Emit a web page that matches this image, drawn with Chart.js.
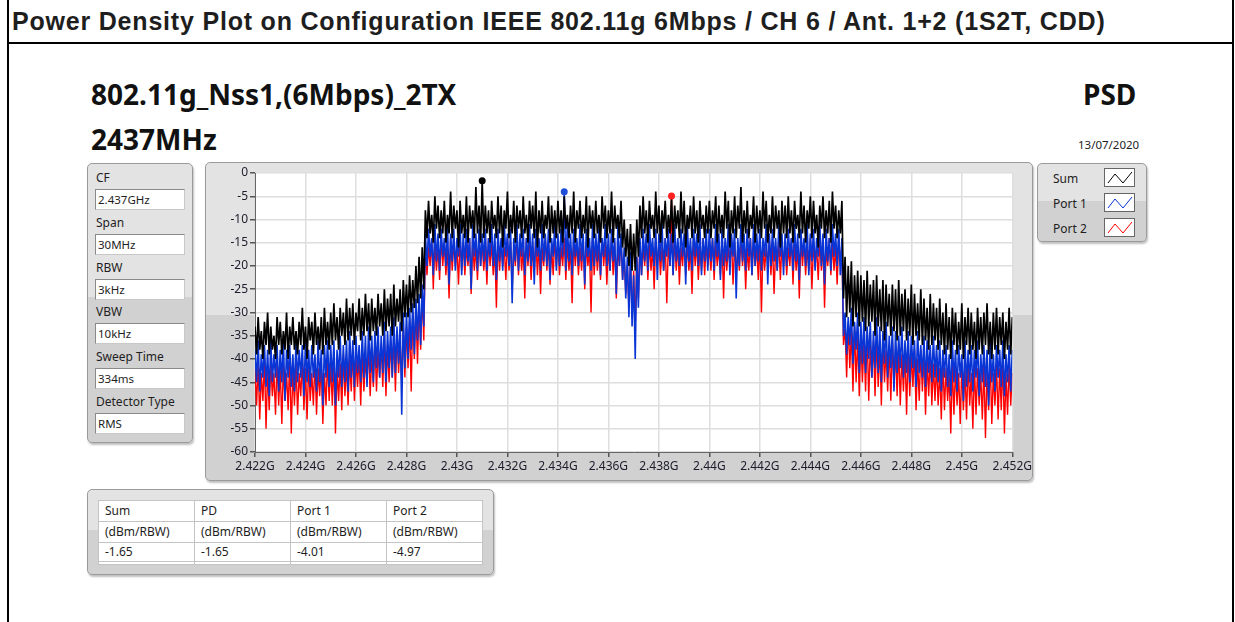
<!DOCTYPE html>
<html>
<head>
<meta charset="utf-8">
<title>PSD</title>
<script src="https://cdn.jsdelivr.net/npm/chart.js@4.4.0/dist/chart.umd.min.js"></script>
<style>
  body { margin: 0; width: 1235px; height: 622px; overflow: hidden; background: #fff; position: relative; font-family: "Noto Sans", sans-serif; color: #1e1e1e; }
  .rule { position: absolute; background: #000; }
  #title { position: absolute; left: 12px; top: 7px; font: bold 25px "Liberation Sans", Arial, sans-serif; letter-spacing: 0.8px; white-space: nowrap; }
  .big { position: absolute; font-weight: bold; font-size: 28px; white-space: nowrap; color: #111; }
  #date { position: absolute; left: 1078px; top: 137px; font-size: 11.5px; }
  .panel { position: absolute; border: 1px solid #9a9a9a; border-radius: 5px; box-shadow: 1px 2px 2px rgba(0,0,0,0.25);
           background: linear-gradient(#e3e3e3 0, #e3e3e3 48%, #d1d1d1 48%, #d1d1d1 100%); box-sizing: border-box; }
  .field-label { position: absolute; left: 8px; font-size: 12px; line-height: 16px; }
  .field-box { position: absolute; left: 7px; width: 90px; height: 21px; background: #fff; border: 1px solid #8a8a8a; border-right-color: #c8c8c8; border-bottom-color: #c8c8c8;
               box-sizing: border-box; font-size: 11.5px; padding-left: 2px; line-height: 19px; }
  .leg-row { position: absolute; left: 15px; font-size: 12px; }
  .leg-icon { position: absolute; left: 66px; width: 31px; height: 19px; background: #fff; border: 1px solid #666; box-sizing: border-box; }
  table { position: absolute; left: 10px; top: 10px; border-collapse: collapse; background: #fff; font-size: 12px; }
  td { border: 1px solid #c4c4c4; width: 96px; padding: 0 0 0 6px; box-sizing: border-box; height: 21px; line-height: 18px; }
  #chartFrame { position: absolute; left: 205px; top: 162px; width: 828px; height: 319px; }
  #chartFrame canvas { position: absolute; left: 0; top: 0; }
</style>
</head>
<body>
<div class="rule" style="left:7px; top:0; width:2px; height:622px;"></div>
<div class="rule" style="left:1232px; top:0; width:2px; height:622px;"></div>
<div class="rule" style="left:7px; top:42px; width:1227px; height:2px;"></div>
<div id="title">Power Density Plot on Configuration IEEE 802.11g 6Mbps / CH 6 / Ant. 1+2 (1S2T, CDD)</div>

<div class="big" style="left:91px; top:75px;">802.11g_Nss1,(6Mbps)_2TX</div>
<div class="big" style="left:91px; top:120px;">2437MHz</div>
<div class="big" style="left:1083px; top:75px;">PSD</div>
<div id="date">13/07/2020</div>

<div class="panel" id="setup" style="left:87px; top:163px; width:106px; height:280px;"></div>

<div class="panel" id="chartFrame"><canvas id="psd" width="828" height="319"></canvas></div>

<div class="panel" id="legend" style="left:1037px; top:163px; width:110px; height:79px;"></div>

<div class="panel" id="peaks" style="left:87px; top:489px; width:407px; height:86px;"></div>

<script>
// sweep settings
var fieldNames = ['CF', 'Span', 'RBW', 'VBW', 'Sweep Time', 'Detector Type'];
var fieldValues = ['2.437GHz', '30MHz', '3kHz', '10kHz', '334ms', 'RMS'];

// trace samples, one every 62.5 kHz from 2.422 GHz (dBm/RBW), one row = 3 MHz
var startGHz = 2.422;
var stepGHz = 0.0000625;

var sumDbm = [
  -33,-39,-31,-38,-34,-40,-32,-37,-30,-39,-33,-38,-35,-40,-31,-37,-32,-39,-34,-38,-30,-40,-33,-37,
  -31,-38,-34,-39,-32,-37,-29,-38,-33,-40,-31,-36,-32,-39,-30,-37,-33,-38,-31,-39,-29,-37,-32,-38,
  -30,-37,-28,-36,-31,-38,-29,-35,-30,-37,-27,-36,-29,-35,-28,-37,-30,-34,-27,-36,-29,-35,-26,-34,
  -28,-36,-27,-34,-29,-35,-26,-33,-28,-35,-25,-34,-27,-33,-26,-35,-24,-33,-27,-32,-25,-34,-23,-31,
  -24,-31,-22,-30,-23,-29,-20,-28,-18,-27,-16,-25,-8,-14,-6,-13,-9,-15,-5,-12,-7,-14,-8,-13,
  -6,-15,-9,-13,-4,-14,-7,-12,-8,-16,-6,-13,-9,-14,-5,-15,-7,-12,-8,-14,-3,-13,-7,-15,
  -1.65,-14,-7,-13,-8,-15,-6,-12,-9,-14,-5,-13,-7,-16,-8,-12,-4,-14,-9,-13,-6,-15,-7,-12,
  -8,-14,-5,-13,-9,-15,-6,-12,-7,-14,-4,-16,-8,-13,-6,-14,-9,-12,-5,-15,-7,-13,-8,-14,
  -6,-13,-8,-15,-5,-12,-9,-14,-7,-13,-4,-15,-8,-12,-6,-14,-9,-13,-5,-16,-7,-12,-8,-14,
  -6,-13,-9,-15,-5,-12,-7,-14,-8,-13,-4,-15,-7,-12,-9,-14,-6,-16,-10,-18,-12,-20,-11,-21,
  -13,-21,-10,-18,-7,-14,-5,-13,-8,-15,-6,-12,-9,-14,-4,-13,-7,-15,-8,-12,-6,-14,-9,-13,
  -5,-15,-7,-12,-8,-14,-4,-13,-6,-16,-9,-12,-7,-14,-5,-13,-8,-15,-6,-12,-9,-14,-7,-13,
  -6,-14,-8,-12,-5,-15,-7,-13,-9,-14,-4,-12,-6,-16,-8,-13,-5,-14,-7,-12,-3,-15,-8,-13,
  -6,-14,-9,-12,-5,-15,-7,-13,-8,-14,-4,-12,-6,-15,-9,-13,-5,-14,-7,-12,-8,-16,-6,-13,
  -7,-14,-5,-13,-8,-15,-6,-12,-9,-14,-4,-13,-7,-15,-8,-12,-5,-14,-6,-13,-9,-16,-7,-12,
  -5,-14,-8,-13,-6,-15,-4,-12,-7,-14,-8,-13,-6,-27,-18,-31,-20,-30,-19,-33,-22,-31,-21,-33,
  -22,-32,-23,-34,-21,-33,-24,-32,-23,-35,-22,-33,-25,-34,-23,-36,-24,-33,-26,-35,-24,-34,-25,-36,
  -23,-35,-26,-34,-25,-36,-27,-35,-24,-37,-26,-35,-28,-36,-25,-37,-27,-36,-29,-38,-26,-37,-28,-36,
  -29,-38,-27,-37,-30,-39,-28,-38,-31,-40,-29,-37,-30,-39,-32,-38,-28,-40,-31,-37,-29,-39,-30,-38,
  -32,-40,-29,-38,-31,-39,-30,-37,-28,-39,-32,-40,-30,-38,-29,-39,-31,-37,-30,-40,-32,-38,-29,-39,
  -31
];

var port1Dbm = [
  -38,-45,-36,-47,-39,-44,-37,-46,-38,-48,-36,-45,-39,-44,-37,-47,-38,-45,-36,-49,-38,-44,-37,-46,
  -39,-47,-36,-45,-38,-44,-37,-48,-36,-45,-38,-46,-37,-44,-39,-47,-36,-45,-38,-50,-37,-44,-36,-46,
  -37,-45,-36,-50,-38,-44,-35,-46,-37,-45,-36,-47,-34,-44,-36,-46,-35,-43,-37,-45,-34,-44,-35,-46,
  -33,-43,-35,-45,-34,-42,-33,-44,-35,-43,-32,-45,-34,-42,-33,-44,-31,-43,-33,-41,-32,-52,-30,-42,
  -30,-40,-29,-38,-28,-39,-27,-36,-26,-37,-24,-33,-13,-20,-12,-18,-14,-22,-11,-19,-13,-21,-12,-18,
  -14,-20,-11,-24,-13,-19,-12,-21,-14,-18,-11,-22,-13,-20,-12,-19,-14,-25,-11,-18,-13,-21,-12,-20,
  -13,-19,-12,-21,-14,-18,-11,-20,-13,-23,-12,-19,-14,-21,-11,-18,-13,-20,-12,-28,-14,-19,-11,-21,
  -13,-18,-12,-22,-14,-19,-11,-20,-13,-24,-12,-18,-14,-21,-11,-19,-13,-20,-12,-23,-14,-18,-11,-21,
  -13,-20,-12,-18,-4.01,-21,-11,-19,-13,-22,-12,-18,-14,-20,-11,-19,-13,-24,-12,-18,-14,-21,-11,-20,
  -13,-19,-12,-22,-14,-18,-11,-20,-13,-21,-12,-19,-14,-26,-11,-20,-13,-23,-16,-27,-18,-31,-17,-33,
  -22,-40,-18,-29,-14,-22,-12,-19,-13,-21,-11,-18,-14,-20,-12,-23,-13,-19,-11,-21,-14,-18,-12,-20,
  -13,-22,-11,-19,-14,-20,-12,-18,-13,-24,-11,-19,-14,-21,-12,-18,-13,-20,-11,-22,-14,-19,-12,-21,
  -12,-19,-14,-21,-11,-18,-13,-23,-12,-20,-14,-19,-11,-22,-13,-18,-12,-27,-14,-20,-11,-19,-13,-21,
  -12,-18,-14,-22,-11,-20,-13,-19,-12,-21,-14,-18,-11,-24,-13,-20,-12,-19,-14,-21,-11,-18,-13,-22,
  -13,-20,-12,-18,-14,-21,-11,-19,-13,-23,-12,-18,-14,-20,-11,-22,-13,-19,-12,-21,-14,-18,-11,-20,
  -13,-24,-12,-19,-14,-21,-11,-18,-13,-20,-12,-22,-14,-35,-30,-39,-31,-37,-29,-41,-32,-38,-30,-43,
  -32,-41,-31,-43,-33,-40,-32,-44,-34,-42,-31,-43,-33,-45,-34,-41,-32,-44,-35,-42,-33,-47,-34,-43,
  -35,-42,-33,-44,-36,-43,-34,-45,-35,-42,-36,-46,-34,-43,-37,-44,-35,-46,-36,-43,-37,-45,-35,-44,
  -37,-45,-36,-47,-38,-44,-37,-46,-39,-48,-36,-45,-38,-47,-37,-44,-39,-49,-36,-46,-38,-45,-37,-47,
  -38,-44,-36,-48,-39,-45,-37,-46,-38,-50,-36,-45,-39,-47,-37,-44,-38,-46,-36,-48,-39,-45,-37,-47,
  -38
];

var port2Dbm = [
  -42,-50,-41,-53,-43,-49,-40,-55,-42,-51,-41,-48,-43,-52,-40,-50,-42,-54,-41,-49,-43,-51,-40,-56,
  -42,-50,-41,-52,-43,-48,-40,-51,-42,-53,-41,-49,-43,-50,-40,-52,-42,-48,-41,-54,-43,-50,-40,-49,
  -41,-50,-40,-56,-42,-49,-41,-51,-39,-48,-41,-50,-40,-47,-38,-49,-40,-46,-39,-50,-38,-47,-40,-45,
  -37,-48,-39,-46,-36,-47,-38,-44,-37,-46,-35,-48,-37,-45,-36,-44,-35,-47,-34,-43,-36,-45,-33,-44,
  -33,-42,-32,-47,-30,-40,-29,-41,-28,-38,-26,-36,-15,-22,-16,-20,-14,-25,-15,-21,-16,-23,-14,-20,
  -15,-22,-16,-27,-14,-21,-15,-20,-16,-24,-14,-21,-15,-22,-16,-20,-14,-26,-15,-21,-16,-23,-14,-20,
  -15,-21,-16,-24,-14,-20,-15,-22,-16,-29,-14,-21,-15,-20,-16,-23,-14,-21,-15,-25,-16,-20,-14,-22,
  -15,-21,-16,-27,-14,-20,-15,-23,-16,-21,-14,-22,-15,-26,-16,-20,-14,-21,-15,-24,-16,-22,-14,-20,
  -15,-22,-16,-20,-14,-23,-15,-21,-16,-28,-14,-20,-15,-22,-16,-21,-14,-25,-15,-20,-16,-30,-14,-22,
  -15,-21,-16,-23,-14,-20,-15,-24,-16,-21,-14,-22,-15,-27,-16,-20,-14,-23,-18,-26,-20,-29,-19,-31,
  -21,-33,-18,-27,-15,-22,-16,-20,-14,-23,-15,-21,-16,-25,-14,-20,-15,-22,-16,-21,-14,-28,-15,-20,
  -4.97,-22,-14,-21,-15,-24,-16,-20,-14,-22,-15,-21,-16,-26,-14,-20,-15,-23,-16,-21,-14,-22,-15,-20,
  -16,-21,-14,-23,-15,-20,-16,-22,-14,-27,-15,-21,-16,-20,-14,-24,-15,-22,-16,-21,-14,-20,-15,-25,
  -16,-21,-14,-22,-15,-20,-16,-23,-14,-30,-15,-21,-16,-20,-14,-22,-15,-26,-16,-21,-14,-23,-15,-20,
  -15,-22,-16,-20,-14,-24,-15,-21,-16,-27,-14,-20,-15,-22,-16,-21,-14,-25,-15,-20,-16,-23,-14,-21,
  -15,-29,-16,-20,-14,-22,-15,-21,-16,-24,-14,-20,-15,-37,-33,-44,-32,-42,-34,-47,-33,-45,-35,-48,
  -35,-45,-36,-47,-34,-49,-37,-44,-36,-48,-35,-46,-37,-50,-36,-45,-38,-47,-37,-49,-36,-46,-38,-48,
  -37,-50,-39,-47,-38,-52,-37,-48,-39,-46,-38,-51,-40,-49,-38,-47,-39,-52,-40,-48,-39,-50,-41,-49,
  -41,-50,-42,-53,-40,-51,-42,-49,-43,-56,-41,-52,-42,-50,-43,-54,-41,-51,-42,-53,-40,-50,-43,-55,
  -41,-52,-42,-50,-43,-53,-41,-57,-42,-51,-40,-54,-43,-50,-41,-53,-42,-51,-40,-56,-43,-52,-41,-50,
  -43
];

// peak markers (Sum, Port 1, Port 2)
var peakFreqGHz = [2.431, 2.43425, 2.4385];
var peakDbm = [-1.65, -4.01, -4.97];

var xTickValues = [2.422, 2.424, 2.426, 2.428, 2.43, 2.432, 2.434, 2.436, 2.438, 2.44, 2.442, 2.444, 2.446, 2.448, 2.45, 2.452];
var xTickLabels = ['2.422G', '2.424G', '2.426G', '2.428G', '2.43G', '2.432G', '2.434G', '2.436G', '2.438G', '2.44G', '2.442G', '2.444G', '2.446G', '2.448G', '2.45G', '2.452G'];

var traceNames = ['Sum', 'Port 1', 'Port 2'];
var traceColors = ['#000000', '#0a35d6', '#ff0000'];
var traceWidths = [1.7, 1.6, 1.4];
var markerColors = ['#000000', '#1f4fd9', '#ff2020'];

var tableHeads = ['Sum', 'PD', 'Port 1', 'Port 2'];
var tableUnits = ['(dBm/RBW)', '(dBm/RBW)', '(dBm/RBW)', '(dBm/RBW)'];
var tableValues = ['-1.65', '-1.65', '-4.01', '-4.97'];

// left settings panel
var html = '';
for (var i = 0; i < fieldNames.length; i++) {
    var rowTop = 6 + i * 44.8;
    html += '<div class="field-label" style="top:' + rowTop + 'px">' + fieldNames[i] + '</div>';
    html += '<div class="field-box" style="top:' + (rowTop + 19) + 'px">' + fieldValues[i] + '</div>';
}
document.getElementById('setup').innerHTML = html;

// legend
var zig = '<svg width="29" height="17"><polyline points="3,14 10,5 18,14 27,3" fill="none" stroke="COL" stroke-width="1"/></svg>';
html = '';
for (var i = 0; i < traceNames.length; i++) {
    html += '<div class="leg-row" style="top:' + (6 + i * 25) + 'px">' + traceNames[i] + '</div>';
    html += '<div class="leg-icon" style="top:' + (4 + i * 25) + 'px">' + zig.replace('COL', traceColors[i]) + '</div>';
}
document.getElementById('legend').innerHTML = html;

// peak table
html = '<table><tr>';
tableHeads.forEach(function (t) { html += '<td>' + t + '</td>'; });
html += '</tr><tr>';
tableUnits.forEach(function (t) { html += '<td>' + t + '</td>'; });
html += '</tr><tr>';
tableValues.forEach(function (t) { html += '<td style="height:19px">' + t + '</td>'; });
html += '</tr><tr>';
tableValues.forEach(function () { html += '<td style="height:3px;line-height:0"></td>'; });
html += '</tr></table>';
document.getElementById('peaks').innerHTML = html;

function toPoints(values) {
    return values.map(function (v, i) { return { x: startGHz + i * stepGHz, y: v }; });
}

var tickFont = { family: 'Noto Sans', size: 12 };

var plotBackground = {
    id: 'plotBackground',
    beforeDraw: function (chart) {
        var a = chart.chartArea;
        chart.ctx.save();
        chart.ctx.fillStyle = '#ffffff';
        chart.ctx.fillRect(a.left, a.top, a.right - a.left, a.bottom - a.top);
        chart.ctx.restore();
    }
};

var traces = [sumDbm, port1Dbm, port2Dbm].map(function (values, i) {
    return { label: traceNames[i], data: toPoints(values), borderColor: traceColors[i], borderWidth: traceWidths[i] };
});
traces.push({
    type: 'scatter', label: 'Peak', order: -1,
    data: peakFreqGHz.map(function (f, i) { return { x: f, y: peakDbm[i] }; }),
    pointRadius: 3.5, pointBackgroundColor: markerColors, pointBorderColor: markerColors, pointBorderWidth: 0
});

var ctx = document.getElementById('psd').getContext('2d');
var psdChart = new Chart(ctx, {
    type: 'line',
    data: { datasets: traces },
    options: {
        responsive: false,
        animation: false,
        layout: { padding: { top: 10, right: 21, left: 0, bottom: 0 } },
        elements: {
            point: { radius: 0 },
            line: { tension: 0, borderJoinStyle: 'miter' }
        },
        plugins: { legend: { display: false }, tooltip: { enabled: false } },
        scales: {
            x: {
                type: 'linear', min: 2.422, max: 2.452,
                afterFit: function (s) { s.height = 30; },
                afterBuildTicks: function (s) { s.ticks = xTickValues.map(function (v) { return { value: v }; }); },
                ticks: {
                    autoSkip: false, maxRotation: 0, padding: 2, color: '#1c1c2c', font: tickFont,
                    callback: function (v, i) { return xTickLabels[i]; }
                },
                grid: { color: '#dedede', lineWidth: 1.5, tickColor: '#555', tickLength: 5 },
                border: { color: '#666', width: 1 }
            },
            y: {
                min: -60, max: 0,
                afterFit: function (s) { s.width = 49; },
                ticks: { stepSize: 5, padding: 2, color: '#1c1c2c', font: tickFont },
                grid: { color: '#dedede', lineWidth: 1.5, tickColor: '#555', tickLength: 5 },
                border: { color: '#666', width: 1 }
            }
        }
    },
    plugins: [plotBackground]
});
</script>
</body>
</html>
